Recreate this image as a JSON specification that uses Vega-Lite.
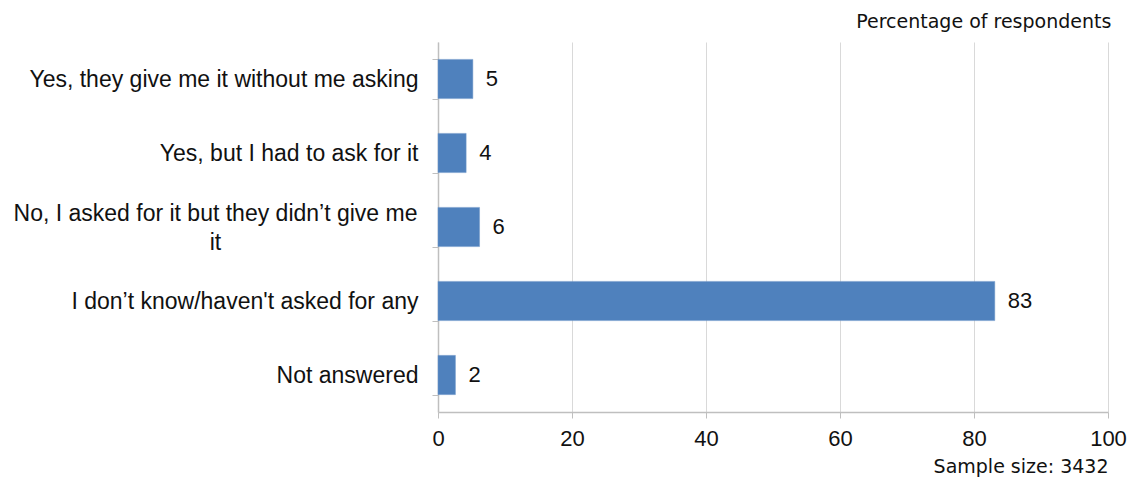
{
  "$schema": "https://vega.github.io/schema/vega-lite/v6.json",
  "autosize": "none",
  "width": 670,
  "height": 370,
  "padding": {"left": 438, "top": 42, "right": 27, "bottom": 68},
  "background": "white",
  "title": {
    "text": "Percentage of respondents",
    "anchor": "end",
    "baseline": "alphabetic",
    "offset": 14,
    "dy": 30,
    "dx": -15,
    "font": "DejaVu Sans",
    "fontSize": 19,
    "fontWeight": "normal",
    "color": "#111111"
  },
  "data": {
    "values": [
      {"answer": "Yes, they give me it without me asking", "pct": 5.2, "label": "5"},
      {"answer": "Yes, but I had to ask for it", "pct": 4.2, "label": "4"},
      {"answer": "No, I asked for it but they didn’t give me it", "pct": 6.2, "label": "6"},
      {"answer": "I don’t know/haven't asked for any", "pct": 83.1, "label": "83"},
      {"answer": "Not answered", "pct": 2.6, "label": "2"}
    ]
  },
  "encoding": {
    "y": {
      "field": "answer",
      "type": "nominal",
      "sort": null,
      "title": null,
      "scale": {"paddingInner": 0.47, "paddingOuter": 0.235},
      "axis": {
        "tickBand": "extent",
        "tickSize": 6,
        "tickColor": "#bfbfbf",
        "domainColor": "#bfbfbf",
        "domainWidth": 1.5,
        "labelFont": "Liberation Sans",
        "labelFontSize": 23,
        "labelColor": "#111111",
        "labelLimit": 460,
        "labelLineHeight": 29,
        "labelOffset": {"condition": {"test": "datum.value == 'No, I asked for it but they didn’t give me it'", "value": -14}, "value": 0},
        "labelPadding": {"condition": {"test": "datum.value == 'No, I asked for it but they didn’t give me it'", "value": 217}, "value": 14},
        "labelAlign": {"condition": {"test": "datum.value == 'No, I asked for it but they didn’t give me it'", "value": "center"}, "value": "right"},
        "labelExpr": "datum.value == 'No, I asked for it but they didn’t give me it' ? ['No, I asked for it but they didn’t give me', 'it'] : datum.value"
      }
    },
    "x": {
      "field": "pct",
      "type": "quantitative",
      "scale": {"domain": [0, 100]},
      "title": "Sample size: 3432",
      "axis": {
        "values": [0, 20, 40, 60, 80, 100],
        "grid": true,
        "gridColor": "#d9d9d9",
        "gridWidth": 1,
        "tickSize": 6,
        "tickColor": "#bfbfbf",
        "domainColor": "#bfbfbf",
        "domainWidth": 1.5,
        "labelFont": "Liberation Sans",
        "labelFontSize": 22,
        "labelColor": "#111111",
        "labelFlush": false,
        "labelPadding": 10,
        "titleAnchor": "end",
        "titleAlign": "right",
        "titleFont": "DejaVu Sans",
        "titleFontSize": 19,
        "titleFontWeight": "normal",
        "titleColor": "#111111",
        "titlePadding": 8
      }
    }
  },
  "layer": [
    {"mark": {"type": "bar", "color": "#4f81bd", "stroke": "#6f97c9", "strokeWidth": 0.5}},
    {
      "mark": {"type": "text", "align": "left", "dx": 13, "font": "Liberation Sans", "fontSize": 22, "color": "#111111"},
      "encoding": {"text": {"field": "label"}}
    }
  ],
  "config": {"view": {"stroke": null}}
}
